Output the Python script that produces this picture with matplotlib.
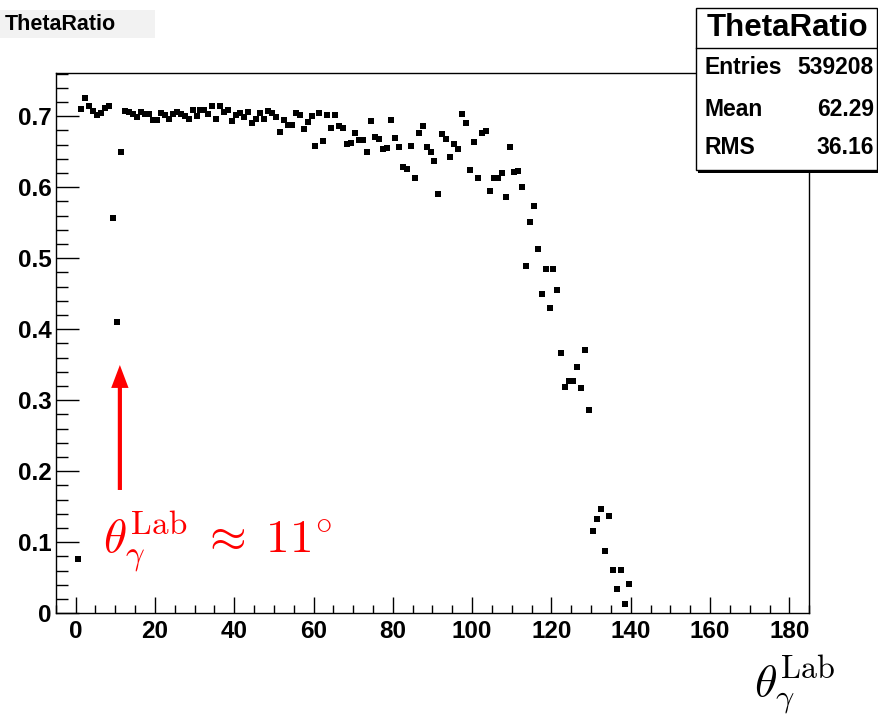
import matplotlib
matplotlib.use("Agg")
import matplotlib.pyplot as plt
import numpy as np
from matplotlib.patches import Rectangle, FancyArrowPatch
from matplotlib.lines import Line2D
from matplotlib.ticker import MultipleLocator, FixedLocator

plt.rcParams['font.family'] = ['Liberation Sans', 'DejaVu Sans']
plt.rcParams['mathtext.fontset'] = 'cm'

# ---------------- data ----------------
bin_width = 1.0
ratio = [
    0.0769, 0.7103, 0.7254, 0.7145, 0.7079, 0.7023, 0.7051, 0.7121, 0.7141, 0.5572,
    0.4107, 0.6501, 0.7070, 0.7056, 0.7037, 0.6990, 0.7056, 0.7037, 0.7037, 0.6948,
    0.6948, 0.7051, 0.7014, 0.6966, 0.7028, 0.7061, 0.7028, 0.7004, 0.6958, 0.7089,
    0.7008, 0.7085, 0.7085, 0.7028, 0.7149, 0.6966, 0.7145, 0.7065, 0.7085, 0.6938,
    0.7023, 0.7051, 0.6986, 0.7056, 0.6905, 0.6958, 0.7046, 0.6958, 0.7079, 0.7042,
    0.6986, 0.6775, 0.6948, 0.6877, 0.6877, 0.7046, 0.7018, 0.6821, 0.6915, 0.7008,
    0.6586, 0.7042, 0.6652, 0.7018, 0.6839, 0.7018, 0.6863, 0.6839, 0.6606, 0.6628,
    0.6769, 0.6666, 0.6666, 0.6497, 0.6934, 0.6704, 0.6676, 0.6539, 0.6549, 0.6944,
    0.6690, 0.6572, 0.6286, 0.6258, 0.6586, 0.6127, 0.6769, 0.6863, 0.6572, 0.6501,
    0.6370, 0.5910, 0.6755, 0.6680, 0.6423, 0.6606, 0.6539, 0.7028, 0.6901, 0.6244,
    0.6642, 0.6127, 0.6765, 0.6789, 0.5948, 0.6135, 0.6135, 0.6201, 0.5868, 0.6563,
    0.6220, 0.6234, 0.6004, 0.4887, 0.5515, 0.5737, 0.5135, 0.4497, 0.4854, 0.4304,
    0.4845, 0.4558, 0.3666, 0.3187, 0.3276, 0.3268, 0.3469, 0.3173, 0.3708, 0.2868,
    0.1163, 0.1328, 0.1473, 0.0882, 0.1375, 0.0606, 0.0338, 0.0606, 0.0127, 0.0417,
]
theta = (np.arange(len(ratio)) + 0.5) * bin_width

xticks = [0, 20, 40, 60, 80, 100, 120, 140, 160, 180]
xticklabels = ['0', '20', '40', '60', '80', '100', '120', '140', '160', '180']
yticks = [0, 0.1, 0.2, 0.3, 0.4, 0.5, 0.6, 0.7]
yticklabels = ['0', '0.1', '0.2', '0.3', '0.4', '0.5', '0.6', '0.7']

hist_name = 'ThetaRatio'
stats_labels = ['Entries', 'Mean', 'RMS']
stats_values = ['539208', '62.29', '36.16']

arrow_x = 11.18
arrow_y0, arrow_y1 = 0.1737, 0.3497
note_text = r'$\theta_{\gamma}^{\mathrm{Lab}}\;\approx\;11^{\circ}$'
xlabel_text = r'$\theta_{\gamma}^{\mathrm{Lab}}$'

# ---------------- figure ----------------
W, H = 879, 719
fig = plt.figure(figsize=(W / 100, H / 100), dpi=100)
fx = lambda x: x / W
fy = lambda y: 1 - y / H

ax = fig.add_axes([fx(55.7), fy(613.3), fx(809.3) - fx(55.7), fy(72.7) - fy(613.3)])
ax.plot(theta, ratio, linestyle='none', marker='s', markersize=3.9,
        color='black', markeredgewidth=0)
ax.set_xlim(-5, 185)
ax.set_ylim(0, 0.7614)

for s in ax.spines.values():
    s.set_linewidth(1.0)
    s.set_color('black')

ax.xaxis.set_major_locator(FixedLocator(xticks))
ax.set_xticklabels(xticklabels)
ax.xaxis.set_minor_locator(MultipleLocator(5))
ax.yaxis.set_major_locator(FixedLocator(yticks))
ax.set_yticklabels(yticklabels)
ax.yaxis.set_minor_locator(MultipleLocator(0.02))

ax.tick_params(axis='x', which='major', direction='in', length=11.5, width=1.0,
               pad=5, labelsize=17.5, top=False)
ax.tick_params(axis='x', which='minor', direction='in', length=5.5, width=1.0, top=False)
ax.tick_params(axis='y', which='major', direction='in', length=16.3, width=1.0,
               pad=3, labelsize=17.5, right=False)
ax.tick_params(axis='y', which='minor', direction='in', length=8.4, width=1.0, right=False)
for lab in ax.get_xticklabels() + ax.get_yticklabels():
    lab.set_fontweight('bold')

# red arrow and annotation
arr = FancyArrowPatch((arrow_x, arrow_y0), (arrow_x, arrow_y1),
                      arrowstyle='simple,head_length=16.5,head_width=12.5,tail_width=3.0',
                      mutation_scale=1, color='red', lw=0, shrinkA=0, shrinkB=0)
ax.add_patch(arr)
ax.text(6.9, 0.0854, note_text, color='red', fontsize=34, ha='left', va='baseline')

# x-axis label at bottom right
fig.text(fx(836), fy(696), xlabel_text, fontsize=33, ha='right', va='baseline', color='black')

# title box (top-left)
fig.patches.append(Rectangle((fx(0), fy(38)), fx(155), fy(10) - fy(38),
                             transform=fig.transFigure, facecolor='#f2f2f2',
                             edgecolor='none', zorder=1))
fig.text(fx(5), fy(24), hist_name, fontsize=15.5, fontweight='bold',
         ha='left', va='center', zorder=3)

# stats box (top-right)
bx0, bx1, by0, by1 = 696, 877, 8.3, 170
fig.patches.append(Rectangle((fx(bx0 + 2), fy(by1 + 3)), fx(bx1) - fx(bx0), fy(by0) - fy(by1),
                             transform=fig.transFigure, facecolor='black',
                             edgecolor='none', zorder=1))
fig.patches.append(Rectangle((fx(bx0), fy(by1)), fx(bx1) - fx(bx0), fy(by0) - fy(by1),
                             transform=fig.transFigure, facecolor='white',
                             edgecolor='black', linewidth=1.0, zorder=2))
fig.lines.append(Line2D([fx(bx0), fx(bx1)], [fy(48.3), fy(48.3)],
                        transform=fig.transFigure, color='black', lw=1.0, zorder=3))
fig.text(fx(787.5), fy(28), hist_name, fontsize=22.5, fontweight='bold',
         ha='center', va='center', zorder=4)
row_y = [68, 109.5, 147]
for lab, val, yy in zip(stats_labels, stats_values, row_y):
    fig.text(fx(705), fy(yy), lab, fontsize=16.5, fontweight='bold',
             ha='left', va='center', zorder=4)
    fig.text(fx(874), fy(yy), val, fontsize=16.5, fontweight='bold',
             ha='right', va='center', zorder=4)

fig.savefig('out.png', dpi=100)
